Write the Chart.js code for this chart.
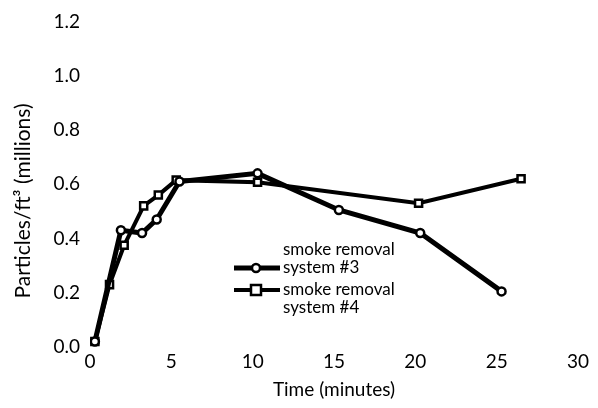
<!DOCTYPE html>
<html>
<head>
<meta charset="utf-8">
<script src="https://cdn.jsdelivr.net/npm/chart.js@4"></script>
<style>
  html, body { margin: 0; padding: 0; background: #fff; }
  #wrap { width: 598px; height: 408px; }
</style>
</head>
<body>
<div id="wrap"><canvas id="myChart"></canvas></div>
<script>
const sys3Time = [0.3, 1.9, 3.2, 4.1, 5.5, 10.3, 15.3, 20.3, 25.3];
const sys3Vals = [0.02, 0.43, 0.42, 0.47, 0.61, 0.64, 0.505, 0.42, 0.205];
const sys4Time = [0.3, 1.2, 2.1, 3.3, 4.2, 5.3, 10.3, 20.2, 26.5];
const sys4Vals = [0.02, 0.23, 0.375, 0.52, 0.56, 0.615, 0.607, 0.53, 0.62];
const etiquetas = ['smoke removal\nsystem #3', 'smoke removal\nsystem #4'];
const tituloY = 'Particles/ft³ (millions)';

const fuente = 'Lato, "DejaVu Sans", sans-serif';

function puntos(xs, ys) {
    return xs.map((x, i) => ({ x: x, y: ys[i] }));
}

// leyenda y titulo vertical dibujados a mano, como en el original
const leyenda = {
    id: 'leyenda',
    afterDatasetsDraw(chart) {
        const c = chart.ctx;
        const filas = [
            { y: 268, texto: 250, estilo: 'circle' },
            { y: 290, texto: 290, estilo: 'rect' }
        ];
        c.save();
        filas.forEach((f, i) => {
            c.strokeStyle = '#000';
            c.lineWidth = i === 0 ? 5 : 4;
            c.beginPath();
            c.moveTo(234, f.y);
            c.lineTo(280, f.y);
            c.stroke();
            c.fillStyle = '#fff';
            c.lineWidth = 2.5;
            c.beginPath();
            if (f.estilo === 'circle') {
                c.arc(256, f.y, 4, 0, Math.PI * 2);
            } else {
                c.rect(251, f.y - 5, 10, 10);
            }
            c.fill();
            c.stroke();
            c.fillStyle = '#000';
            c.font = '17px ' + fuente;
            c.textBaseline = 'middle';
            const lineas = etiquetas[i].split('\n');
            lineas.forEach((l, j) => c.fillText(l, 283, f.texto + j * 18));
        });

        c.translate(23, 201);
        c.rotate(-Math.PI / 2);
        c.textAlign = 'center';
        c.textBaseline = 'middle';
        c.font = '21px ' + fuente;
        c.fillText(tituloY, 0, 0);
        c.restore();
    }
};

const ctx = document.getElementById('myChart');
new Chart(ctx, {
    type: 'line',
    data: {
        datasets: [{
            label: 'smoke removal system #3',
            data: puntos(sys3Time, sys3Vals),
            borderColor: '#000',
            borderWidth: 5,
            pointStyle: 'circle',
            pointRadius: 4,
            pointBackgroundColor: '#fff',
            pointBorderColor: '#000',
            pointBorderWidth: 2.5,
            tension: 0
        }, {
            label: 'smoke removal system #4',
            data: puntos(sys4Time, sys4Vals),
            borderColor: '#000',
            borderWidth: 4,
            pointStyle: 'rect',
            pointRadius: 5,
            pointBackgroundColor: '#fff',
            pointBorderColor: '#000',
            pointBorderWidth: 2.5,
            tension: 0
        }]
    },
    options: {
        responsive: true,
        maintainAspectRatio: false,
        animation: false,
        layout: { padding: { top: 17, right: 20, left: 0, bottom: 0 } },
        plugins: {
            legend: { display: false },
            tooltip: { enabled: false }
        },
        scales: {
            x: {
                type: 'linear',
                min: 0,
                max: 30,
                grid: { display: false, drawTicks: false },
                border: { display: false },
                ticks: {
                    stepSize: 5,
                    color: '#000',
                    padding: 3,
                    font: { family: fuente, size: 19 }
                },
                title: {
                    display: true,
                    text: 'Time (minutes)',
                    color: '#000',
                    padding: { top: 0, bottom: 7 },
                    font: { family: fuente, size: 19 }
                },
                afterFit(scale) { scale.height = 61; }
            },
            y: {
                min: 0,
                max: 1.2,
                grid: { display: false, drawTicks: false },
                border: { display: false },
                ticks: {
                    stepSize: 0.2,
                    color: '#000',
                    padding: 10,
                    font: { family: fuente, size: 19 },
                    callback: v => v.toFixed(1)
                },
                afterFit(scale) { scale.width = 90; }
            }
        }
    },
    plugins: [leyenda]
});
</script>
</body>
</html>
